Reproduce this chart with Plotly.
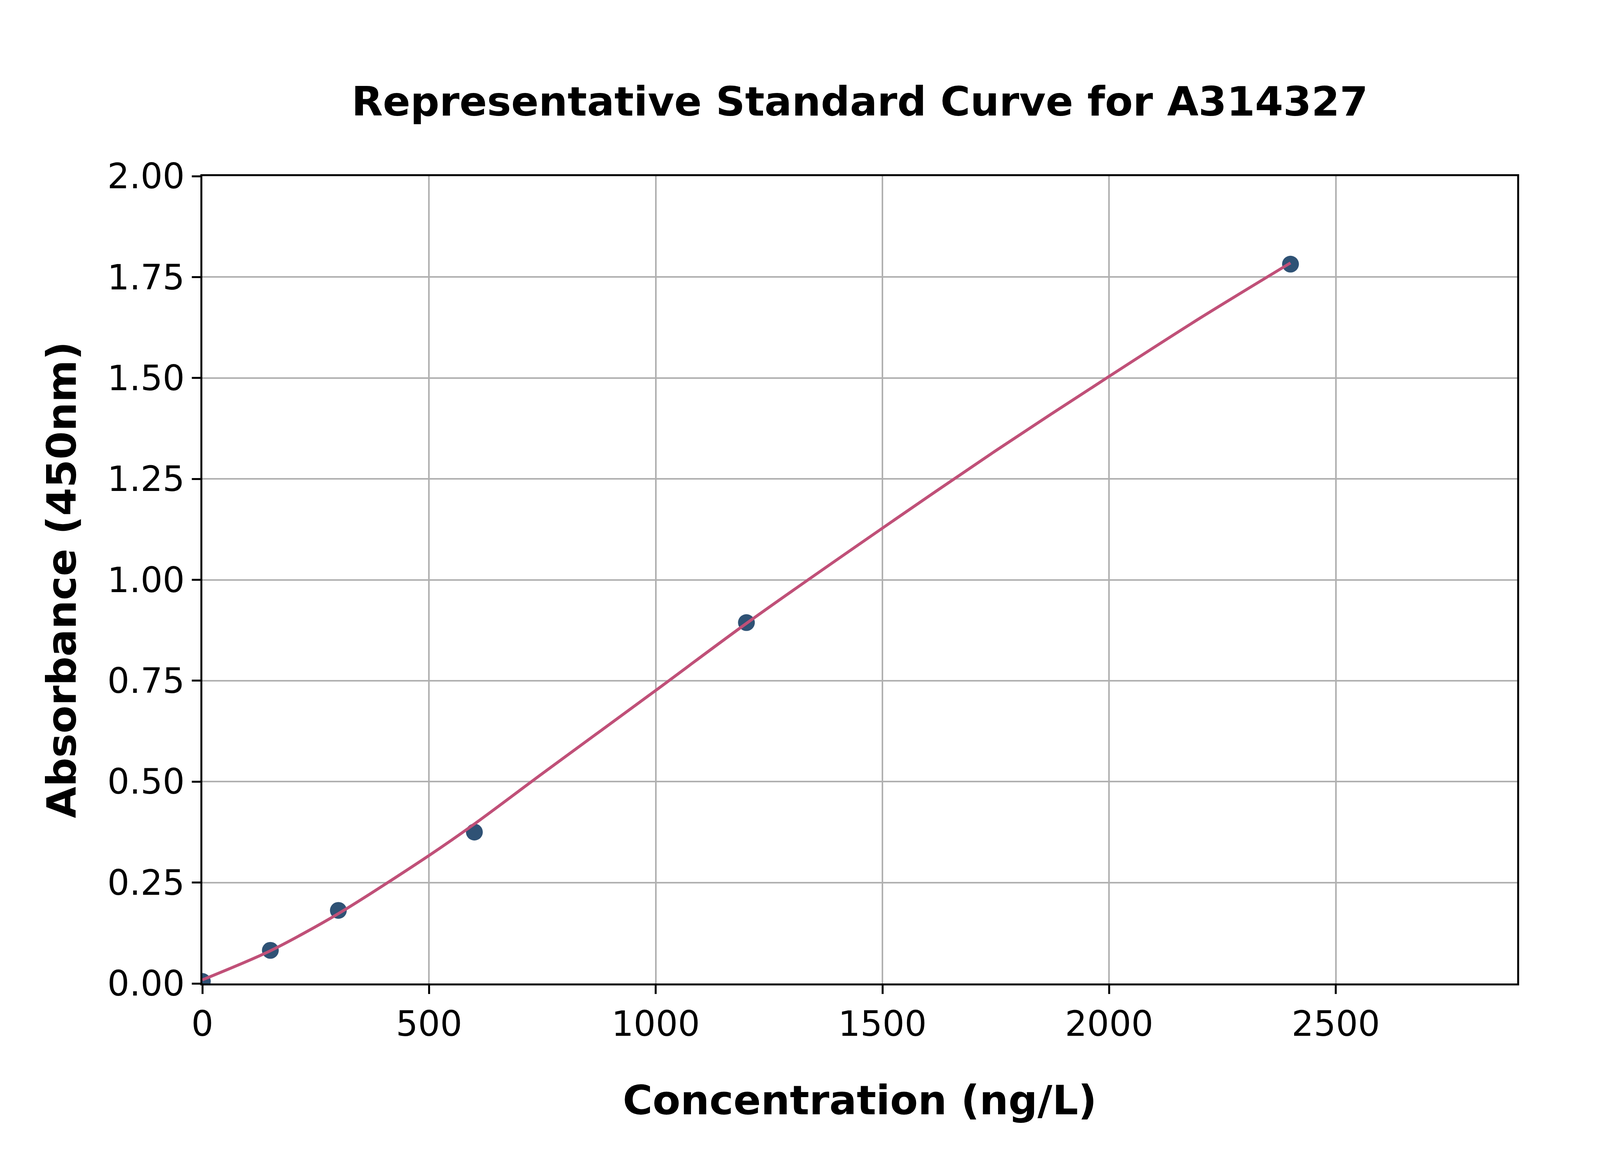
import json
import plotly.graph_objects as go

# Measured standards
conc = [0, 150, 300, 600, 1200, 2400]
absorb = [0.005, 0.082, 0.181, 0.375, 0.894, 1.782]

# Fitted curve
curve_x = [0, 150, 300, 500, 600, 750, 1000, 1200, 1500, 1750, 2000, 2200, 2400]
curve_y = [0.009, 0.081, 0.173, 0.317, 0.395, 0.52, 0.726, 0.892, 1.128, 1.32, 1.504, 1.648, 1.785]

x_ticks = [0, 500, 1000, 1500, 2000, 2500]
y_ticks = [0.0, 0.25, 0.5, 0.75, 1.0, 1.25, 1.5, 1.75, 2.0]
y_tick_text = ["0.00", "0.25", "0.50", "0.75", "1.00", "1.25", "1.50", "1.75", "2.00"]

FONT = "DejaVu Sans"

# Design sizes for a 4500 x 2970 canvas
BASE = dict(W=4500, H=2970, ml=563, mr=225, mt=445, mb=446,
            title=111, axtitle=111, tick=95, marker=46, line=8,
            axline=5, grid=4, ticklen=24, tickwidth=5,
            xstand=110, ystand=52)

fig = go.Figure()
fig.add_trace(go.Scatter(
    x=conc, y=absorb, mode="markers",
    marker=dict(size=BASE["marker"], color="#2f5275"),
    showlegend=False))
fig.add_trace(go.Scatter(
    x=curve_x, y=curve_y, mode="lines",
    line=dict(color="#c05078", width=BASE["line"], shape="spline", smoothing=0.8),
    showlegend=False))

axis_common = dict(
    showline=True, linecolor="black", linewidth=BASE["axline"], mirror=True,
    ticks="outside", ticklen=BASE["ticklen"], tickwidth=BASE["tickwidth"], tickcolor="black",
    showgrid=True, gridcolor="#b0b0b0", gridwidth=BASE["grid"],
    zeroline=False,
    tickfont=dict(family=FONT, size=BASE["tick"], color="black"),
)

fig.update_layout(
    autosize=True,
    paper_bgcolor="white", plot_bgcolor="white",
    margin=dict(l=BASE["ml"], r=BASE["mr"], t=BASE["mt"], b=BASE["mb"]),
    title=dict(text="<b>Representative Standard Curve for A314327</b>",
               font=dict(family=FONT, size=BASE["title"], color="black"),
               x=0.5, xref="paper", xanchor="center",
               y=1 - 253 / 2970, yanchor="middle"),
    xaxis=dict(range=[0, 2900], tickvals=x_ticks,
               title=dict(text="<b>Concentration (ng/L)</b>",
                          font=dict(family=FONT, size=BASE["axtitle"], color="black"),
                          standoff=BASE["xstand"]),
               **axis_common),
    yaxis=dict(range=[0, 2.0], tickvals=y_ticks, ticktext=y_tick_text,
               title=dict(text="<b>Absorbance (450nm)</b>",
                          font=dict(family=FONT, size=BASE["axtitle"], color="black"),
                          standoff=BASE["ystand"]),
               **axis_common),
)

# Scale the design to the real size of the page once plotly has sized the figure
fit_js = "var B = " + json.dumps(BASE) + ";\n" + """
var gd = document.getElementById('{plot_id}');
var W = gd._fullLayout.width, H = gd._fullLayout.height;
var sx = W / B.W, sy = H / B.H, s = Math.pow(sx, 0.65) * Math.pow(sy, 0.35);
var upd = {
  'margin.l': B.ml * sx, 'margin.r': B.mr * sx,
  'margin.t': B.mt * sy, 'margin.b': B.mb * sy,
  'title.font.size': B.title * s,
  'xaxis.title.font.size': B.axtitle * s, 'yaxis.title.font.size': B.axtitle * s,
  'xaxis.tickfont.size': B.tick * s, 'yaxis.tickfont.size': B.tick * s,
  'xaxis.title.standoff': B.xstand * sy, 'yaxis.title.standoff': B.ystand * sx,
  'xaxis.linewidth': B.axline * s, 'yaxis.linewidth': B.axline * s,
  'xaxis.gridwidth': B.grid * s, 'yaxis.gridwidth': B.grid * s,
  'xaxis.ticklen': B.ticklen * s, 'yaxis.ticklen': B.ticklen * s,
  'xaxis.tickwidth': B.tickwidth * s, 'yaxis.tickwidth': B.tickwidth * s
};
Plotly.restyle(gd, {'marker.size': B.marker * s}, [0]);
Plotly.restyle(gd, {'line.width': B.line * s}, [1]);
Plotly.relayout(gd, upd);
"""

fig.write_html("out.html", config={"responsive": True}, post_script=fit_js)
